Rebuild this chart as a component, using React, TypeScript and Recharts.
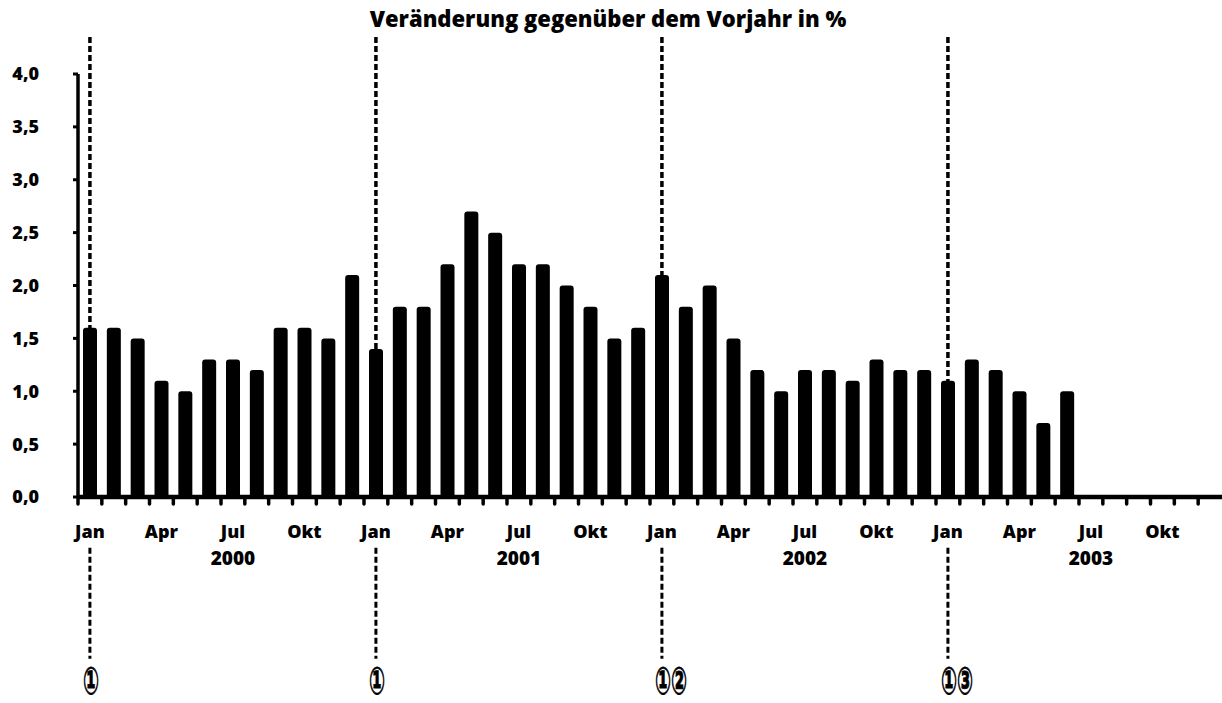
import React from "react";
import { BarChart, Bar, XAxis, YAxis, ReferenceLine } from "recharts";

// Veränderung gegenüber dem Vorjahr in %, monthly, Jan 2000 – Dez 2003
const monthNames = ["Jan", "Feb", "Mär", "Apr", "Mai", "Jun", "Jul", "Aug", "Sep", "Okt", "Nov", "Dez"];
const years = [2000, 2001, 2002, 2003];
const values2000 = [1.6, 1.6, 1.5, 1.1, 1.0, 1.3, 1.3, 1.2, 1.6, 1.6, 1.5, 2.1];
const values2001 = [1.4, 1.8, 1.8, 2.2, 2.7, 2.5, 2.2, 2.2, 2.0, 1.8, 1.5, 1.6];
const values2002 = [2.1, 1.8, 2.0, 1.5, 1.2, 1.0, 1.2, 1.2, 1.1, 1.3, 1.2, 1.2];
const values2003 = [1.1, 1.3, 1.2, 1.0, 0.7, 1.0, null, null, null, null, null, null];
const yTicks = [0, 0.5, 1, 1.5, 2, 2.5, 3, 3.5, 4];
const shownMonths = ["Jan", "Apr", "Jul", "Okt"];
const markers = [
  { year: 2000, note: "①" },
  { year: 2001, note: "①" },
  { year: 2002, note: "①②" },
  { year: 2003, note: "①③" },
];

const FONT = "'Open Sans', sans-serif";
const LINE_TOP = 4.35;
const LINE_GAP = -0.48;
const LINE_BOTTOM = -1.53;

const allValues = [values2000, values2001, values2002, values2003];
const data = years.flatMap((year, yi) =>
  monthNames.map((m, mi) => ({
    key: `${year}-${mi + 1}`,
    year,
    month: m,
    value: allValues[yi][mi],
  }))
);

function MonthTick(props: any) {
  const { x, y, payload } = props;
  const row = data[payload.index];
  const left = x - (payload.offset ?? 0);
  return (
    <g>
      <line x1={left} y1={y} x2={left} y2={y + 7} stroke="#000" strokeWidth={3.5} strokeLinecap="round" />
      {shownMonths.includes(row.month) && (
        <text x={x} y={y + 41} textAnchor="middle" fontFamily={FONT} fontWeight={800} fontSize={18} fill="#000">
          {row.month}
        </text>
      )}
      {row.month === "Jul" && (
        <text x={x} y={y + 68} textAnchor="middle" fontFamily={FONT} fontWeight={800} fontSize={19} fill="#000">
          {row.year}
        </text>
      )}
    </g>
  );
}

function NoteLabel(props: any) {
  const { viewBox, note } = props;
  if (!viewBox) return null;
  const x = viewBox.x;
  const y = viewBox.y + viewBox.height;
  return (
    <text
      transform={`translate(${x - 7}, ${y + 35}) scale(0.5, 1)`}
      fontFamily="'DejaVu Sans', sans-serif"
      fontWeight={700}
      fontSize={38}
      fill="#000"
      stroke="#000"
      strokeWidth={0.9}
    >
      {note}
    </text>
  );
}

export default function App() {
  return (
    <div style={{ position: "absolute", left: 0, top: 0, width: 1222, height: 703, background: "#fff" }}>
      <div
        style={{
          position: "absolute",
          left: 0,
          width: 1216,
          top: 3,
          textAlign: "center",
          fontFamily: FONT,
          fontWeight: 800,
          fontSize: 22,
          color: "#000",
        }}
      >
        Veränderung gegenüber dem Vorjahr in %
      </div>
      <BarChart
        width={1222}
        height={703}
        data={data}
        margin={{ top: 74, right: 0, left: 0, bottom: 146 }}
        barCategoryGap="21%"
      >
        <YAxis
          domain={[0, 4]}
          ticks={yTicks}
          width={78}
          interval={0}
          allowDataOverflow
          axisLine={{ stroke: "#000", strokeWidth: 3.5 }}
          tickLine={{ stroke: "#000", strokeWidth: 3 }}
          tickSize={5}
          tickMargin={34}
          tick={{ fontFamily: FONT, fontWeight: 800, fontSize: 18, fill: "#000" }}
          tickFormatter={(v: number) => v.toFixed(1).replace(".", ",")}
        />
        <XAxis
          dataKey="key"
          height={60}
          interval={0}
          tickSize={0}
          tickMargin={0}
          tickLine={false}
          axisLine={{ stroke: "#000", strokeWidth: 4.5 }}
          tick={<MonthTick />}
        />
        {markers.map((m) => (
          <ReferenceLine
            key={`top-${m.year}`}
            segment={[
              { x: `${m.year}-1`, y: LINE_TOP },
              { x: `${m.year}-1`, y: 0 },
            ]}
            ifOverflow="visible"
            stroke="#000"
            strokeWidth={3.5}
            strokeDasharray="6 3"
          />
        ))}
        {markers.map((m) => (
          <ReferenceLine
            key={`bottom-${m.year}`}
            segment={[
              { x: `${m.year}-1`, y: LINE_GAP },
              { x: `${m.year}-1`, y: LINE_BOTTOM },
            ]}
            ifOverflow="visible"
            stroke="#000"
            strokeWidth={3}
            strokeDasharray="6 3"
            label={(props: any) => <NoteLabel {...props} note={m.note} />}
          />
        ))}
        <Bar dataKey="value" fill="#000" radius={[3, 3, 0, 0]} isAnimationActive={false} />
      </BarChart>
    </div>
  );
}
